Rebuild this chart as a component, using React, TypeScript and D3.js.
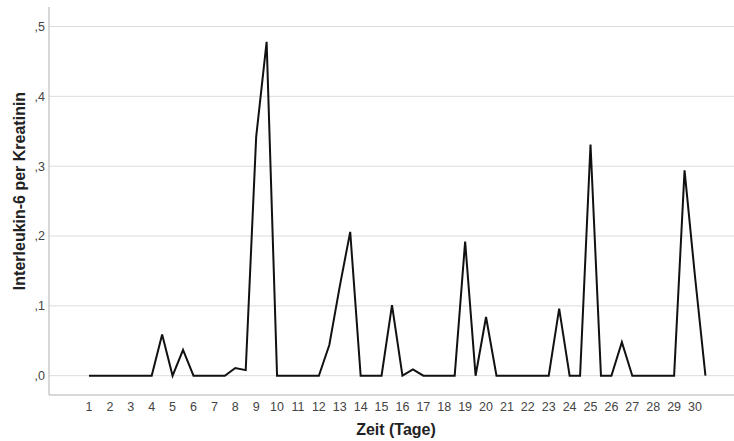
import React from "react";
import * as d3 from "d3";

// Day positions (half-day steps) and values
const days: number[] = [
  1, 1.5, 2, 2.5, 3, 3.5, 4, 4.5, 5, 5.5, 6, 6.5, 7, 7.5, 8, 8.5, 9, 9.5, 10, 10.5,
  11, 11.5, 12, 12.5, 13, 13.5, 14, 14.5, 15, 15.5, 16, 16.5, 17, 17.5, 18, 18.5, 19, 19.5, 20, 20.5,
  21, 21.5, 22, 22.5, 23, 23.5, 24, 24.5, 25, 25.5, 26, 26.5, 27, 27.5, 28, 28.5, 29, 29.5, 30, 30.5,
];
const values: number[] = [
  0, 0, 0, 0, 0, 0, 0, 0.059, 0, 0.037, 0, 0, 0, 0, 0.011, 0.008, 0.342, 0.478, 0, 0,
  0, 0, 0, 0.044, 0.128, 0.206, 0, 0, 0, 0.101, 0, 0.009, 0, 0, 0, 0, 0.192, 0, 0.084, 0,
  0, 0, 0, 0, 0, 0.096, 0, 0, 0.331, 0, 0, 0.048, 0, 0, 0, 0, 0, 0.294, 0.142, 0,
];
const xTicks: number[] = d3.range(1, 31);
const yTicks: number[] = [0, 0.1, 0.2, 0.3, 0.4, 0.5];
const yTickLabels: string[] = [",0", ",1", ",2", ",3", ",4", ",5"];
const xTitle = "Zeit (Tage)";
const yTitle = "Interleukin-6 per Kreatinin";

const W = 734;
const H = 441;
const plotLeft = 49;
const plotRight = 734;
const plotTop = 7;
const plotBottom = 395;

export default function App() {
  const x = d3.scaleLinear().domain([1, 30]).range([89, 695]);
  const y = d3.scaleLinear().domain([0, 0.5]).range([375.7, 26.5]);
  const pts = days.map((d, i) => [d, values[i]] as [number, number]);
  const line = d3
    .line<[number, number]>()
    .x((d) => x(d[0]))
    .y((d) => y(d[1]));
  const font = "'Liberation Sans', Arial, sans-serif";
  return (
    <div style={{ position: "absolute", left: 0, top: 0 }}>
      <svg width={W} height={H} style={{ display: "block", background: "#fff" }}>
        {yTicks.map((t) => (
          <line
            key={"g" + t}
            x1={plotLeft}
            x2={plotRight}
            y1={y(t)}
            y2={y(t)}
            stroke="#dcdcdc"
            strokeWidth={1}
          />
        ))}
        <line x1={plotLeft} x2={plotLeft} y1={plotTop} y2={plotBottom} stroke="#b0b0b0" strokeWidth={1} />
        <line x1={plotLeft} x2={plotRight} y1={plotBottom} y2={plotBottom} stroke="#b0b0b0" strokeWidth={1} />
        {yTicks.map((t, i) => (
          <text
            key={"yl" + t}
            x={45}
            y={y(t)}
            dy="0.35em"
            textAnchor="end"
            fontFamily={font}
            fontSize={12.5}
            fill="#444"
          >
            {yTickLabels[i]}
          </text>
        ))}
        {xTicks.map((t) => (
          <text
            key={"xl" + t}
            x={x(t)}
            y={411}
            textAnchor="middle"
            fontFamily={font}
            fontSize={12.5}
            fill="#444"
          >
            {t}
          </text>
        ))}
        <path d={line(pts) || ""} fill="none" stroke="#111" strokeWidth={2} strokeLinejoin="miter" />
        <text
          x={396}
          y={435}
          textAnchor="middle"
          fontFamily={font}
          fontWeight="bold"
          fontSize={16}
          fill="#222"
        >
          {xTitle}
        </text>
        <text
          transform={`translate(25, ${(plotTop + plotBottom) / 2 - 10}) rotate(-90)`}
          textAnchor="middle"
          fontFamily={font}
          fontWeight="bold"
          fontSize={16}
          fill="#222"
        >
          {yTitle}
        </text>
      </svg>
    </div>
  );
}
